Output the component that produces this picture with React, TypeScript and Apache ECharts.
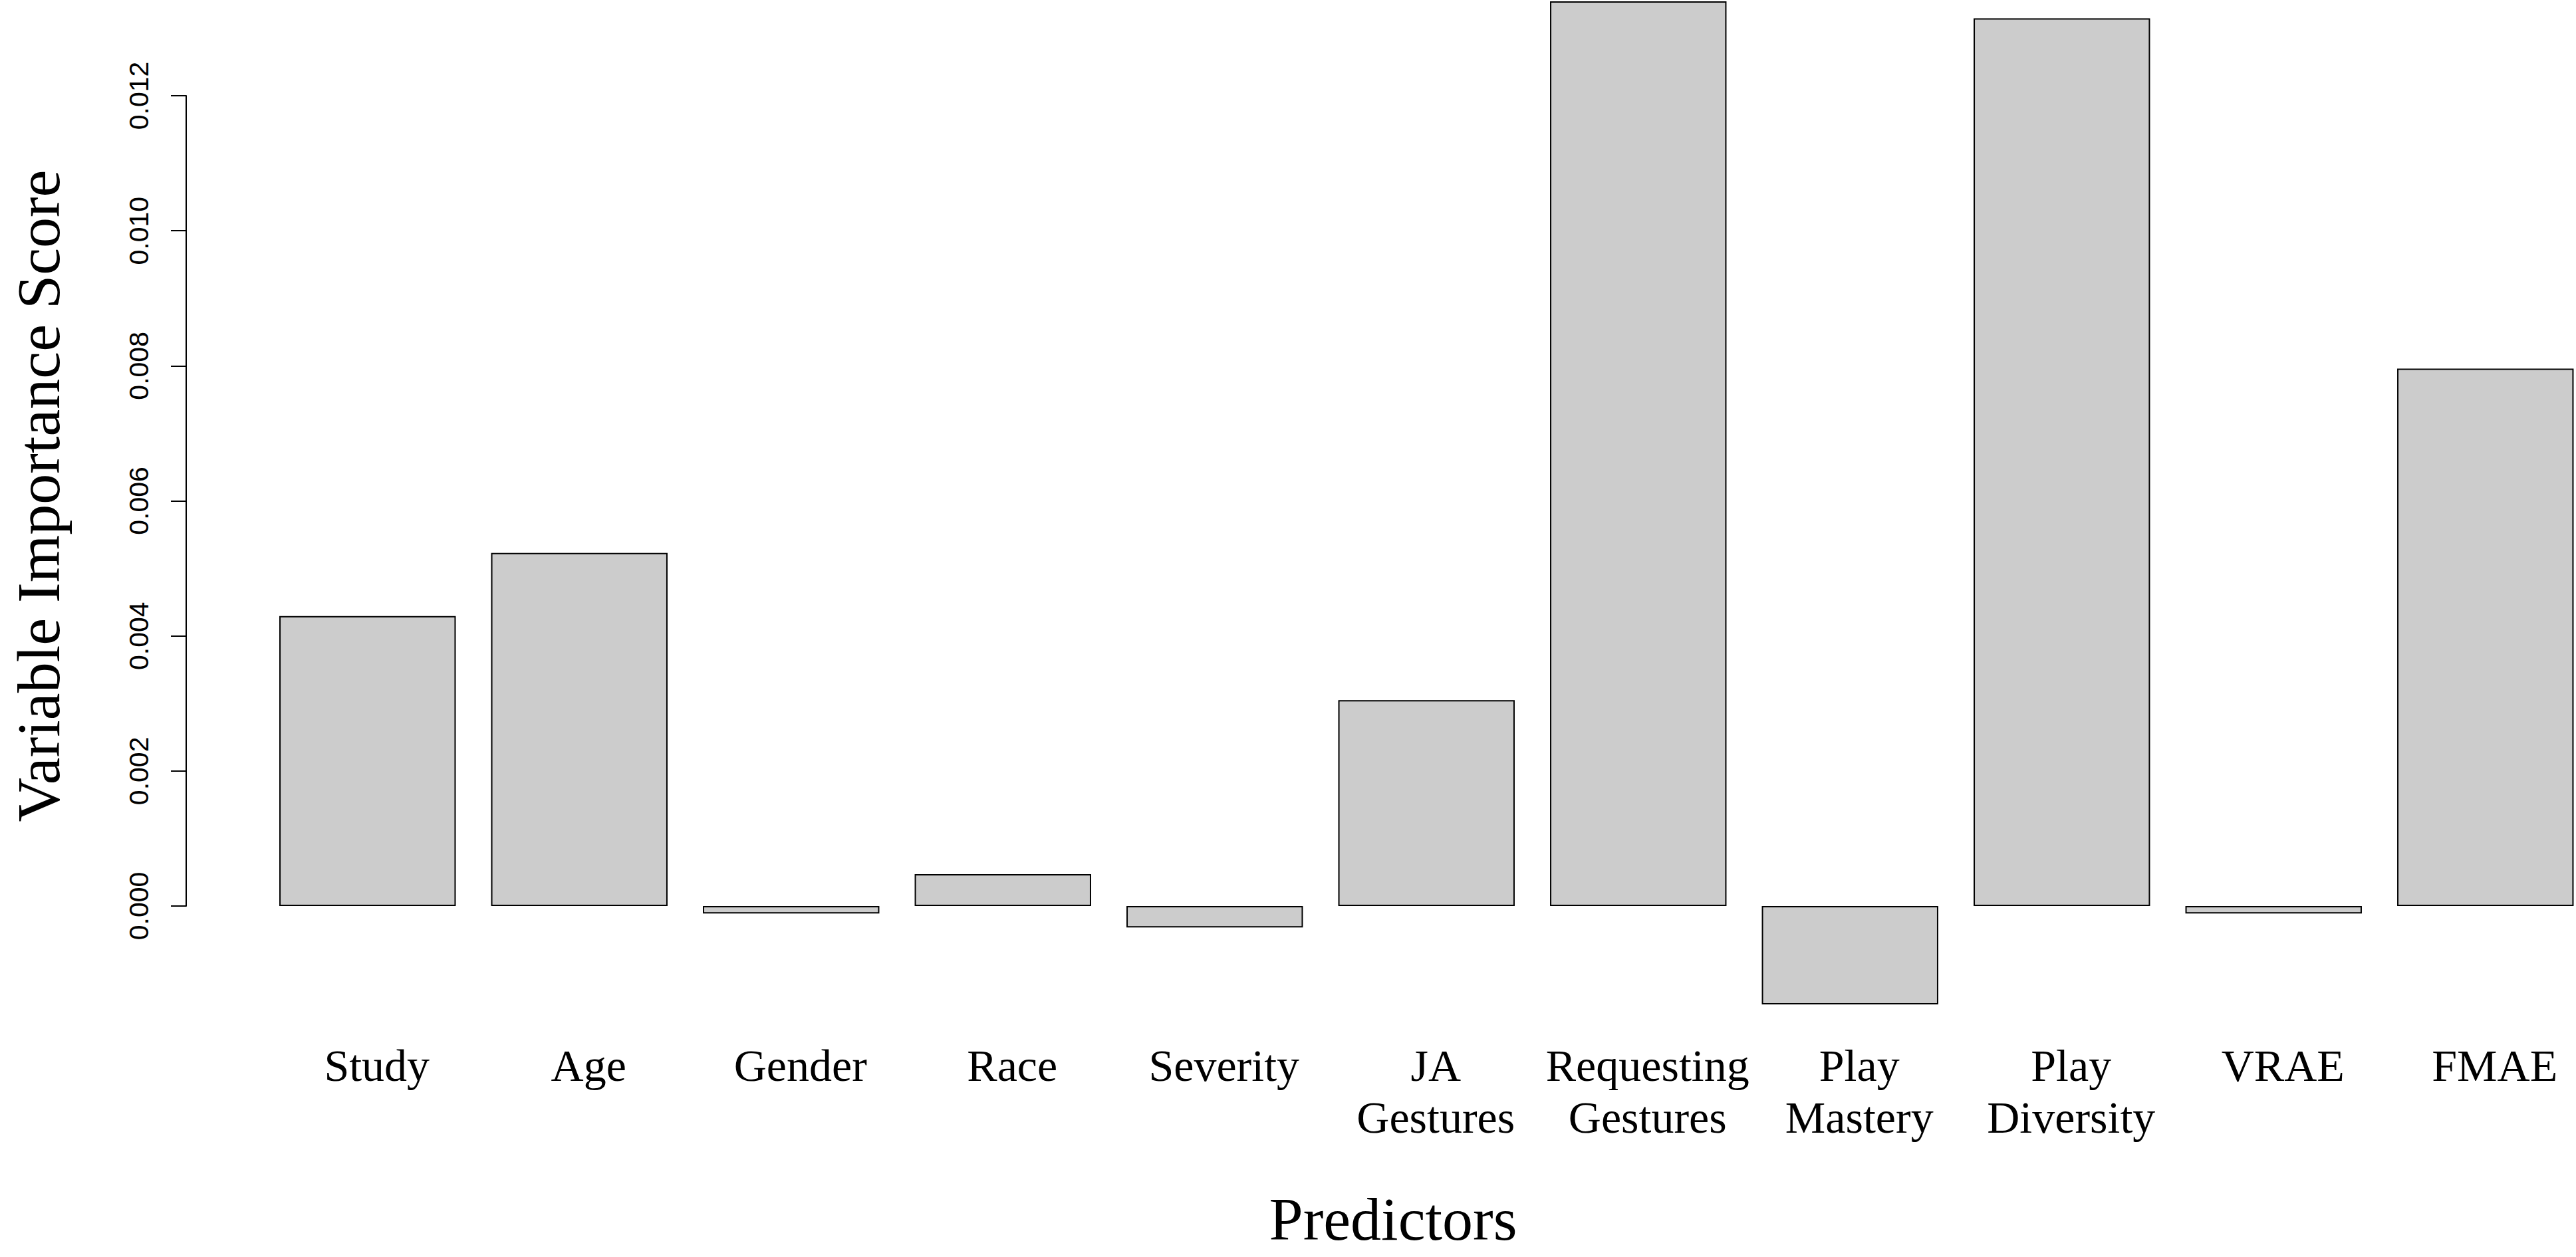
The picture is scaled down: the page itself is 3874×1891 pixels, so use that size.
import React, { useEffect, useRef } from "react";
import * as echarts from "echarts";

const categories = [
  "Study",
  "Age",
  "Gender",
  "Race",
  "Severity",
  "JA\nGestures",
  "Requesting\nGestures",
  "Play\nMastery",
  "Play\nDiversity",
  "VRAE",
  "FMAE",
];
const importance = [
  0.004295, 0.00523, -0.00011, 0.000472, -0.000318, 0.00305, 0.013399,
  -0.001457, 0.013146, -0.00011, 0.00796,
];
const yTicksMin = 0;
const yTicksMax = 0.012;
const yTickStep = 0.002;

const W = 3874;
const H = 1891;
const CANVAS_W = 3960; // wider than the page so the plot can run past the right edge
// layout constants (pixels)
const Y_ZERO = 1363;
const Y_TOP_TICK = 144;
const AXIS_X = 280;
const BAND_LEFT = 393.5;
const BAND_W = 318.5;
const PX_PER_UNIT = (Y_ZERO - Y_TOP_TICK) / (yTicksMax - yTicksMin);
const MAIN_MIN = -0.0018;
const MAIN_MAX = Y_ZERO / PX_PER_UNIT;
const MAIN_H = Y_ZERO + -MAIN_MIN * PX_PER_UNIT;

export default function App() {
  const ref = useRef<HTMLDivElement>(null);
  useEffect(() => {
    if (!ref.current) return;
    const chart = echarts.init(ref.current, null, { renderer: "svg" });
    const serif = "'Liberation Serif', 'Times New Roman', serif";
    const sans = "'Liberation Sans', Arial, sans-serif";
    chart.setOption({
      animation: false,
      backgroundColor: "#ffffff",
      grid: [
        {
          left: BAND_LEFT,
          top: 0,
          width: BAND_W * categories.length,
          height: MAIN_H,
          containLabel: false,
        },
        {
          left: AXIS_X,
          top: Y_TOP_TICK,
          width: 10,
          height: Y_ZERO - Y_TOP_TICK,
          containLabel: false,
        },
      ],
      xAxis: [
        {
          type: "category",
          gridIndex: 0,
          data: categories,
          axisLine: { show: false },
          axisTick: { show: false },
          splitLine: { show: false },
          axisLabel: {
            interval: 0,
            fontFamily: serif,
            fontSize: 68,
            lineHeight: 78,
            color: "#000000",
            margin: 1564 - MAIN_H,
            padding: [0, 0, 0, 28],
          },
        },
        {
          type: "value",
          gridIndex: 1,
          show: false,
        },
      ],
      yAxis: [
        {
          type: "value",
          gridIndex: 0,
          min: MAIN_MIN,
          max: MAIN_MAX,
          show: false,
          splitLine: { show: false },
        },
        {
          type: "value",
          gridIndex: 1,
          position: "left",
          min: yTicksMin,
          max: yTicksMax,
          interval: yTickStep,
          splitLine: { show: false },
          axisLine: { show: true, lineStyle: { color: "#000000", width: 2 } },
          axisTick: {
            show: true,
            inside: false,
            length: 23,
            lineStyle: { color: "#000000", width: 2 },
          },
          axisLabel: {
            rotate: 90,
            margin: 51,
            fontFamily: sans,
            fontSize: 41,
            color: "#000000",
            formatter: (v: number) => v.toFixed(3),
          },
        },
      ],
      series: [
        {
          type: "bar",
          xAxisIndex: 0,
          yAxisIndex: 0,
          data: importance,
          barCategoryGap: "16.667%",
          itemStyle: {
            color: "#cccccc",
            borderColor: "#000000",
            borderWidth: 2,
          },
        },
        {
          type: "line",
          xAxisIndex: 1,
          yAxisIndex: 1,
          data: [],
          silent: true,
        },
      ],
      graphic: [
        {
          type: "text",
          x: 58,
          y: 746,
          rotation: Math.PI / 2,
          style: {
            text: "Variable Importance Score",
            fontFamily: serif,
            fontSize: 92,
            fill: "#000000",
            textAlign: "center",
            textVerticalAlign: "middle",
          },
        },
        {
          type: "text",
          x: 2095,
          y: 1834,
          style: {
            text: "Predictors",
            fontFamily: serif,
            fontSize: 92,
            fill: "#000000",
            textAlign: "center",
            textVerticalAlign: "middle",
          },
        },
      ],
    });
    return () => chart.dispose();
  }, []);
  return (
    <div
      style={{
        position: "fixed",
        left: 0,
        top: 0,
        width: W,
        height: H,
        overflow: "hidden",
        background: "#fff",
      }}
    >
      <div ref={ref} style={{ width: CANVAS_W, height: H }} />
    </div>
  );
}
